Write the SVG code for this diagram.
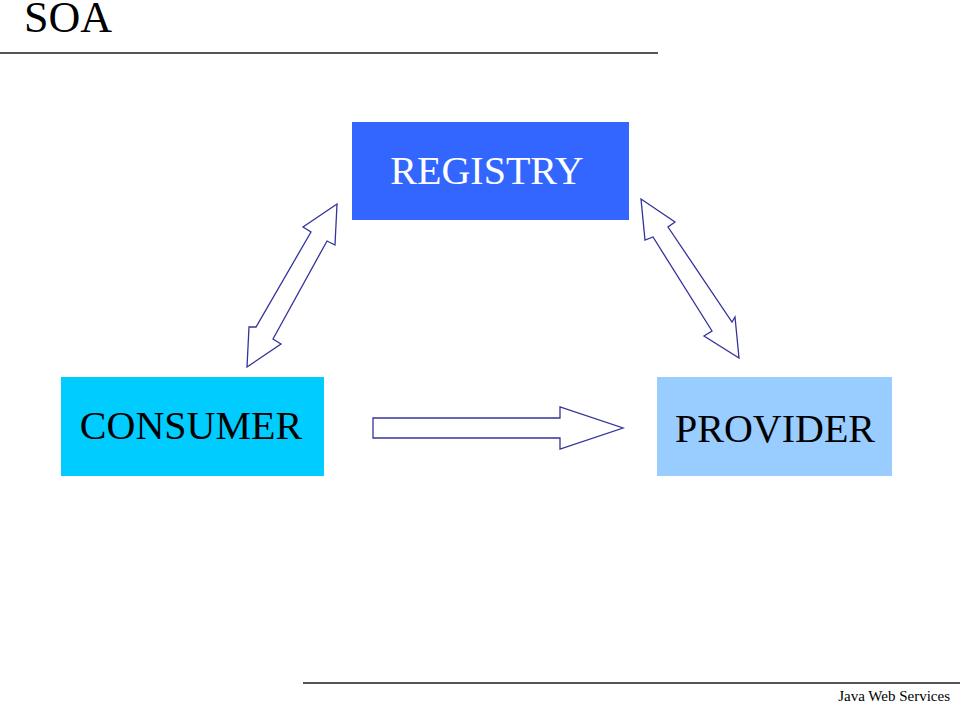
<svg xmlns="http://www.w3.org/2000/svg" width="960" height="703" viewBox="0 0 960 703">
<style>
text{font-family:"Liberation Serif","Times New Roman",serif;}
.lbl{font-size:40px;text-anchor:middle;}
.arr{fill:#ffffff;stroke:#33339a;stroke-width:1.3;stroke-linejoin:miter;}
.rule{stroke:#555555;stroke-width:2;}
</style>
<rect width="960" height="703" fill="#ffffff"/>
<text x="24" y="32" font-size="44" fill="#000">SOA</text>
<line class="rule" x1="0" y1="53" x2="658" y2="53"/>
<line class="rule" x1="303" y1="683" x2="960" y2="683"/>
<text x="950" y="701" font-size="15" text-anchor="end" fill="#000">Java Web Services</text>
<g id="registry">
<rect x="352" y="122" width="277" height="98" fill="#3366ff"/>
<text class="lbl" x="487" y="184" fill="#ffffff">REGISTRY</text>
</g>
<g id="consumer">
<rect x="61" y="377" width="263" height="99" fill="#00ccff"/>
<text class="lbl" x="191" y="439" fill="#000">CONSUMER</text>
</g>
<g id="provider">
<rect x="657" y="377" width="235" height="99" fill="#99ccff"/>
<text class="lbl" x="775" y="442" fill="#000">PROVIDER</text>
</g>
<g id="connectors">
<polygon class="arr" points="337,204 303,227 311,232 256,327 249,327 247,367 281,344 273,339 327,241 335,245"/>
<polygon class="arr" points="641,199 675,222 668,227 732,322 735,317 739,358 704,336 712,331 653,237 645,240"/>
<polygon class="arr" points="373,418 560,418 560,407 623,428 560,449 560,438 373,438"/>
</g>
</svg>
